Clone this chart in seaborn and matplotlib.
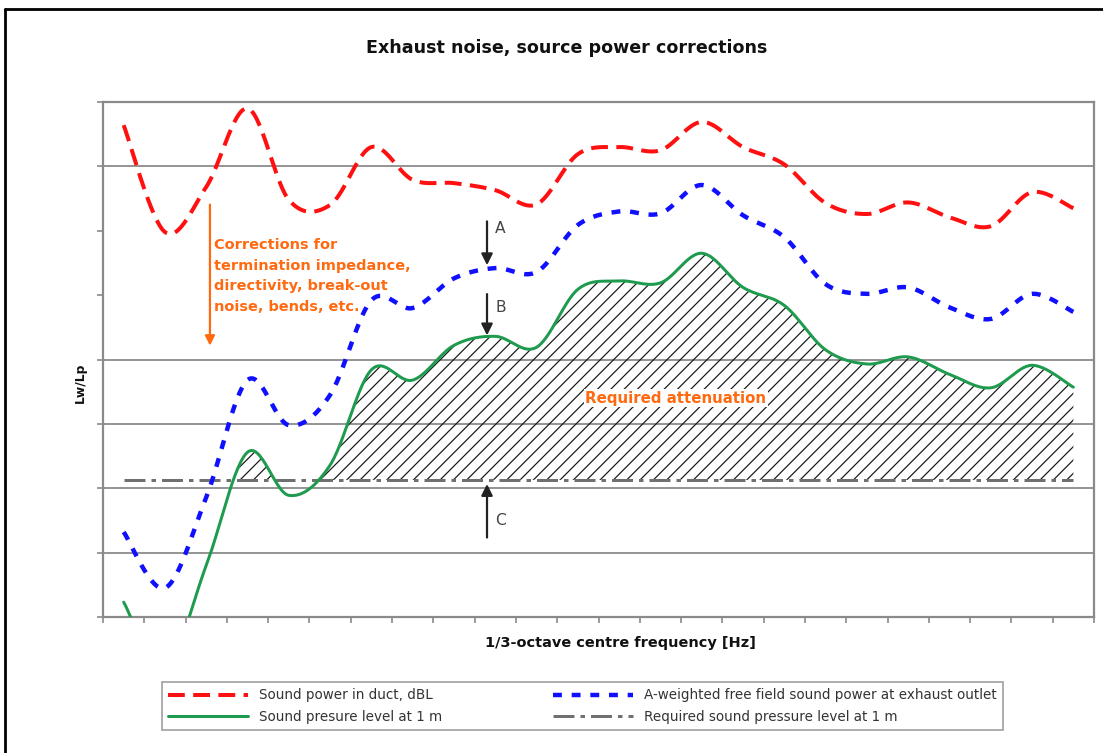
import numpy as np
import pandas as pd
import matplotlib
matplotlib.use("Agg")
import matplotlib.pyplot as plt
import seaborn as sns
from matplotlib.lines import Line2D

# 1/3-octave band positions (24 bands) and levels in dB
bands = list(range(24))
duct_power = [76.4, 59.8, 66.8, 79.0, 64.8, 64.0, 73.0, 67.9, 67.4, 66.3, 64.1, 71.9,
              73.0, 72.5, 76.9, 73.0, 70.3, 64.3, 62.6, 64.4, 62.1, 60.7, 66.0, 63.5]
free_field_power = [13.2, 4.5, 18.6, 36.8, 29.8, 34.5, 49.2, 48.0, 52.6, 54.2, 53.6, 60.9,
                    63.0, 62.7, 67.1, 62.4, 59.0, 51.7, 50.2, 51.2, 48.1, 46.3, 50.2, 47.4]
spl_1m = [2.3, -8.0, 8.0, 25.6, 18.9, 23.6, 38.4, 36.8, 42.2, 43.6, 41.9, 50.9,
          52.2, 51.9, 56.5, 51.2, 48.4, 41.5, 39.3, 40.4, 37.7, 35.6, 39.1, 35.7]
required_spl = [21.3] * 24

series_labels = ["Sound power in duct, dBL",
                 "A-weighted free field sound power at exhaust outlet",
                 "Sound presure level at 1 m",
                 "Required sound pressure level at 1 m"]


def smooth_curve(x, y, steps=30):
    """Smoothed line through the points (cubic Bezier, 1/6 tangent rule)."""
    p = np.column_stack([x, y]).astype(float)
    n = len(p)
    xs, ys = [], []
    for i in range(n - 1):
        p0 = p[i - 1] if i > 0 else p[i]
        p1, p2 = p[i], p[i + 1]
        p3 = p[i + 2] if i + 2 < n else p[i + 1]
        c1 = p1 + (p2 - p0) / 6.0
        c2 = p2 - (p3 - p1) / 6.0
        t = np.linspace(0, 1, steps, endpoint=(i == n - 2))[:, None]
        seg = ((1 - t) ** 3) * p1 + 3 * ((1 - t) ** 2) * t * c1 + 3 * (1 - t) * t ** 2 * c2 + t ** 3 * p2
        xs.append(seg[:, 0])
        ys.append(seg[:, 1])
    return np.concatenate(xs), np.concatenate(ys)


sns.set_theme(style="white")
plt.rcParams["font.family"] = ["DejaVu Sans"]
plt.rcParams["hatch.linewidth"] = 1.1

DPI = 80
fig = plt.figure(figsize=(1103 / DPI, 753 / DPI), dpi=DPI)
ax = fig.add_axes([103 / 1103, 1 - 617 / 753, (1094 - 103) / 1103, (617 - 102) / 753])

grid_col = "#8a8a8a"
for level in [10, 20, 30, 40, 70]:
    ax.axhline(level, color=grid_col, lw=1.6, zorder=1)

# smoothed series
sx, s_duct = smooth_curve(bands, duct_power)
_, s_free = smooth_curve(bands, free_field_power)
_, s_spl = smooth_curve(bands, spl_1m)
_, s_req = smooth_curve(bands, required_spl)

# hatched "required attenuation" area
ax.fill_between(sx, s_req, s_spl, where=s_spl > s_req, interpolate=True,
                facecolor="none", edgecolor="#1a1a1a", hatch="//", linewidth=0, zorder=2)

df = pd.DataFrame({"band": sx, "duct": s_duct, "free": s_free, "spl": s_spl, "req": s_req})

sns.lineplot(data=df, x="band", y="duct", sort=False, ax=ax, color="#ff1010", lw=3.6,
             linestyle=(0, (4.2, 2.1)), label=series_labels[0], zorder=4)
sns.lineplot(data=df, x="band", y="free", sort=False, ax=ax, color="#1010ff", lw=4.0,
             linestyle=(0, (2.0, 2.2)), label=series_labels[1], zorder=4)
sns.lineplot(data=df, x="band", y="spl", sort=False, ax=ax, color="#1e9b4e", lw=2.7,
             label=series_labels[2], zorder=4)
sns.lineplot(data=df, x="band", y="req", sort=False, ax=ax, color="#707070", lw=2.7,
             linestyle=(0, (7, 2, 1.5, 2)), label=series_labels[3], zorder=3)

ax.set_xlim(-0.5, 23.5)
ax.set_ylim(0, 80)
ax.set_xticks(np.arange(-0.5, 24, 1))
ax.set_yticks(np.arange(0, 81, 10))
ax.set_xticklabels([])
ax.set_yticklabels([])
ax.tick_params(axis="both", direction="out", length=5, width=1.5, color=grid_col,
               bottom=True, left=True)
for side in ["left", "bottom", "top", "right"]:
    ax.spines[side].set_visible(True)
    ax.spines[side].set_color(grid_col)
    ax.spines[side].set_linewidth(2.0)
ax.set_xlabel("1/3-octave centre frequency [Hz]", fontsize=13, fontweight="bold",
              color="#111111")
ax.xaxis.set_label_coords((620 - 103) / 991, -(643 - 617) / 515)
ax.xaxis.label.set_va("center")
ax.set_ylabel("Lw/Lp", fontsize=11, fontweight="bold", color="#111111")
ax.yaxis.set_label_coords(-(103 - 80) / 991, (617 - 383) / 515)
ax.yaxis.label.set_va("center")
ax.grid(False)

fig.text(567 / 1103, 1 - 48 / 753, "Exhaust noise, source power corrections",
         ha="center", va="center", fontsize=15.8, fontweight="bold", color="#111111")

orange = "#ff6a10"
ax.annotate("", xy=(2.09, 41.8), xytext=(2.09, 64.4),
            arrowprops=dict(arrowstyle="-|>", color=orange, lw=2, mutation_scale=18))
ax.text(2.2, 58.9, "Corrections for\ntermination impedance,\ndirectivity, break-out\nnoise, bends, etc.",
        ha="left", va="top", fontsize=13, fontweight="bold", color=orange, linespacing=1.62)
ax.text(13.37, 34.0, "Required attenuation", ha="center", va="center", fontsize=13.5,
        fontweight="bold", color=orange, zorder=5,
        bbox=dict(facecolor="white", edgecolor="none", pad=1.5))

arrow_kw = dict(arrowstyle="-|>", color="#222222", lw=2, mutation_scale=21)
ax.annotate("", xy=(8.8, 54.3), xytext=(8.8, 61.8), arrowprops=arrow_kw)
ax.annotate("", xy=(8.8, 43.4), xytext=(8.8, 50.5), arrowprops=arrow_kw)
ax.annotate("", xy=(8.8, 21.0), xytext=(8.8, 12.0), arrowprops=arrow_kw)
ax.text(9.0, 60.3, "A", fontsize=14, color="#444444", va="center", ha="left")
ax.text(9.0, 48.1, "B", fontsize=14, color="#444444", va="center", ha="left")
ax.text(9.0, 15.0, "C", fontsize=14, color="#444444", va="center", ha="left")

# legend below the plot area
handles, labels = ax.get_legend_handles_labels()
if ax.legend_:
    ax.legend_.remove()
order = [0, 2, 1, 3]
fig.legend([handles[i] for i in order], [labels[i] for i in order], ncol=2,
           loc="center", bbox_to_anchor=(162 / 1103, 1 - 732 / 753, 841 / 1103, 52 / 753),
           mode="expand", borderaxespad=0, frameon=True, fancybox=False, edgecolor="#888888",
           fontsize=12.2, handlelength=5.9, handletextpad=0.8, labelspacing=0.55,
           borderpad=0.45, labelcolor="#333333")
fig.legends[0].get_frame().set_linewidth(1.5)

# outer frame
fig.add_artist(Line2D([5 / 1103, 1.0], [1 - 9 / 753, 1 - 9 / 753], color="black", lw=2.5,
                      transform=fig.transFigure))
fig.add_artist(Line2D([5 / 1103, 5 / 1103], [0.0, 1 - 9 / 753], color="black", lw=2.5,
                      transform=fig.transFigure))

fig.savefig("out.png", dpi=DPI, facecolor="white")
